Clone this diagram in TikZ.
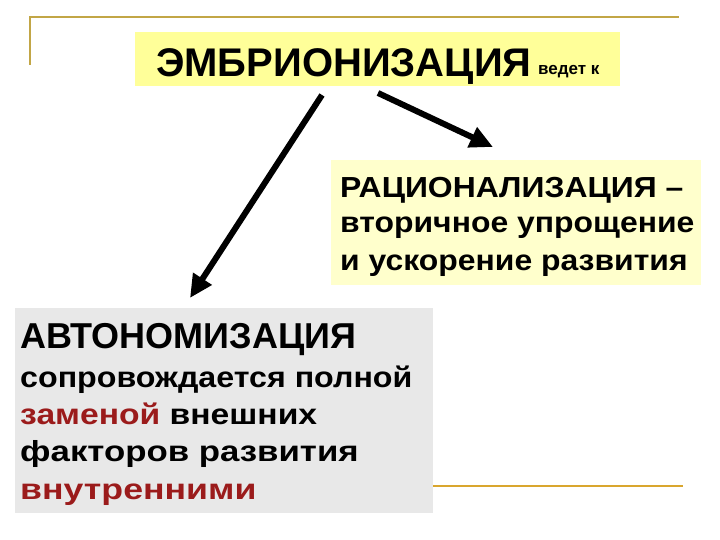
\documentclass[tikz,border=0pt]{standalone}
\usepackage{fontspec}
\setmainfont{Liberation Sans}
\usetikzlibrary{arrows.meta}
\definecolor{gold}{HTML}{C2A646}
\definecolor{goldb}{HTML}{D9A62E}
\definecolor{ttlfill}{HTML}{FFFF99}
\definecolor{ratfill}{HTML}{FFFFCC}
\definecolor{autfill}{HTML}{E8E8E8}
\definecolor{dred}{HTML}{9B1B1B}
\tikzset{
  boxfill/.style={anchor=north west, inner sep=0pt, draw=none},
  txt/.style={anchor=base west, inner sep=0pt},
  rattxt/.style={txt, xscale=1.1, font=\bfseries\fontsize{29}{29}\selectfont},
  auttxt/.style={txt, font=\bfseries\fontsize{29}{29}\selectfont},
  bigarrow/.style={line width=6pt, -{Triangle[length=23pt,width=21pt]}},
  rule/.style={line width=2pt}
}
\begin{document}
\begin{tikzpicture}[x=1pt,y=-1pt]
\useasboundingbox (0,0) rectangle (720,540);
% decorative gold lines
\coordinate (gA) at (30,65);
\coordinate (gB) at (30,17);
\coordinate (gC) at (679,17);
\draw[rule, gold] (gA) -- (gB) -- (gC);
% boxes
\node[boxfill, fill=ttlfill, minimum width=485pt, minimum height=54pt] (title) at (135,32) {};
\node[boxfill, fill=ratfill, minimum width=370pt, minimum height=125pt] (rat) at (331,160) {};
\node[boxfill, fill=autfill, minimum width=418pt, minimum height=205pt] (aut) at (15,308) {};
\coordinate (gD) at (433,486);
\coordinate (gE) at (683,486);
\draw[rule, goldb] (gD) -- (gE);
% title text
\node[txt, font=\bfseries\fontsize{40}{40}\selectfont] (t1) at (156,77) {ЭМБРИОНИЗАЦИЯ};
\node[txt, font=\bfseries\fontsize{17}{17}\selectfont] (t2) at (538,75) {ведет к};
% rationalisation
\node[rattxt] (r1) at (340,198) {РАЦИОНАЛИЗАЦИЯ –};
\node[rattxt] (r2) at (340,233) {вторичное упрощение};
\node[rattxt] (r3) at (340,270) {и ускорение развития};
% autonomisation
\node[txt, font=\bfseries\fontsize{36}{36}\selectfont] (a1) at (20,348) {АВТОНОМИЗАЦИЯ};
\node[auttxt, xscale=1.11] (a2) at (20,387) {сопровождается полной};
\node[auttxt, xscale=1.16] (a3) at (20,424) {\textcolor{dred}{заменой} внешних};
\node[auttxt, xscale=1.2] (a4) at (20,461) {факторов развития};
\node[auttxt, xscale=1.23, text=dred] (a5) at (20,499) {внутренними};
% arrows
\coordinate (s1) at (322,95);
\coordinate (e1) at (190,298);
\coordinate (s2) at (378,93);
\coordinate (e2) at (493,147);
\draw[bigarrow] (s1) -- (e1);
\draw[bigarrow] (s2) -- (e2);
\end{tikzpicture}
\end{document}
